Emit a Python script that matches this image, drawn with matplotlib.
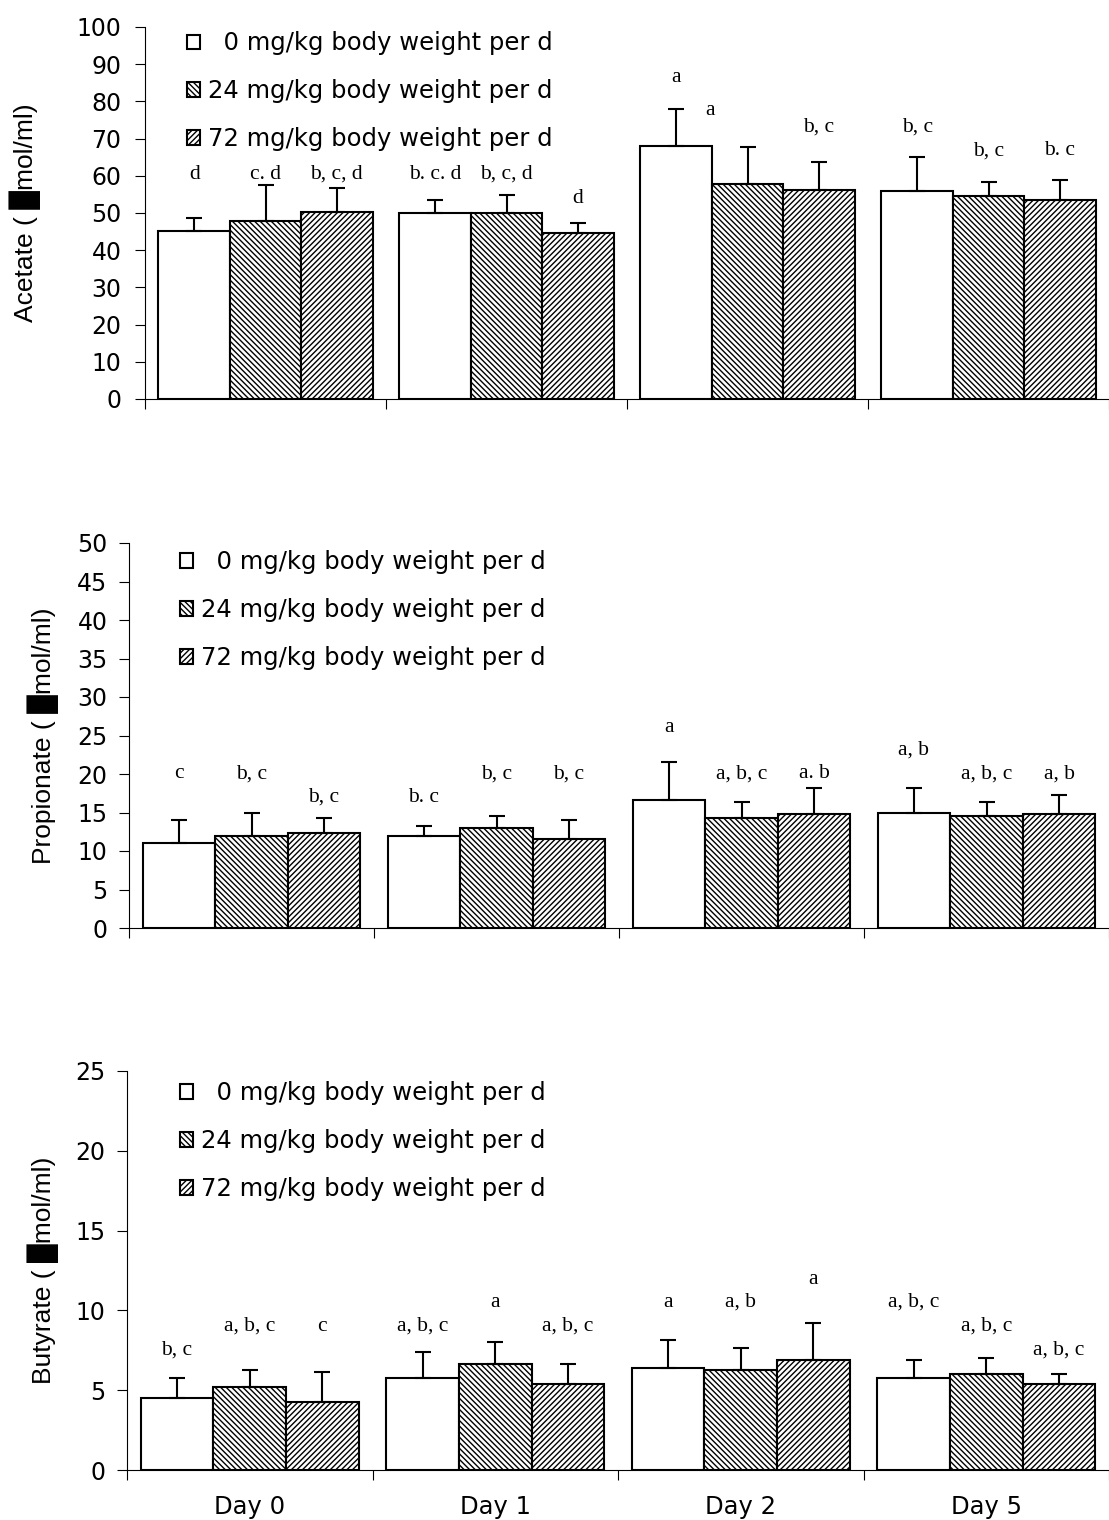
import matplotlib
matplotlib.use("Agg")
import matplotlib.pyplot as plt
import numpy as np

plt.rcParams['font.family'] = ['DejaVu Sans']
plt.rcParams['hatch.linewidth'] = 1.0
plt.rcParams['hatch.color'] = 'black'

days = ["Day 0", "Day 1", "Day 2", "Day 5"]
doses = ["  0 mg/kg body weight per d", "24 mg/kg body weight per d", "72 mg/kg body weight per d"]

# acetate (umol/ml), mean and upper SD per dose group
ace_0 = [45.1, 49.9, 68.1, 55.8]
ace_24 = [47.8, 49.9, 57.9, 54.7]
ace_72 = [50.4, 44.5, 56.3, 53.6]
ace_sd_0 = [3.6, 3.7, 9.8, 9.2]
ace_sd_24 = [9.7, 4.9, 9.8, 3.7]
ace_sd_72 = [6.4, 2.9, 7.4, 5.3]
ace_let_0 = ["d", "b. c. d", "a", "b, c"]
ace_let_24 = ["c. d", "b, c, d", "a", "b, c"]
ace_let_72 = ["b, c, d", "d", "b, c", "b. c"]
ace_lety_0 = [60.4, 60.4, 86.3, 73.1]
ace_lety_24 = [60.4, 60.4, 77.5, 66.7]
ace_lety_72 = [60.4, 53.9, 73.1, 66.7]

# propionate
pro_0 = [11.1, 11.9, 16.6, 15.0]
pro_24 = [11.9, 13.0, 14.3, 14.6]
pro_72 = [12.4, 11.6, 14.8, 14.8]
pro_sd_0 = [2.9, 1.3, 4.9, 3.2]
pro_sd_24 = [3.1, 1.6, 2.0, 1.7]
pro_sd_72 = [1.9, 2.4, 3.4, 2.5]
pro_let_0 = ["c", "b. c", "a", "a, b"]
pro_let_24 = ["b, c", "b, c", "a, b, c", "a, b, c"]
pro_let_72 = ["b, c", "b, c", "a. b", "a, b"]
pro_lety_0 = [20.0, 17.0, 26.1, 23.1]
pro_lety_24 = [20.0, 20.0, 20.0, 20.0]
pro_lety_72 = [17.0, 20.0, 20.0, 20.0]

# butyrate
but_0 = [4.49, 5.74, 6.36, 5.74]
but_24 = [5.22, 6.62, 6.24, 5.99]
but_72 = [4.26, 5.36, 6.87, 5.36]
but_sd_0 = [1.25, 1.63, 1.76, 1.13]
but_sd_24 = [1.04, 1.37, 1.38, 1.00]
but_sd_72 = [1.85, 1.26, 2.37, 0.63]
but_let_0 = ["b, c", "a, b, c", "a", "a, b, c"]
but_let_24 = ["a, b, c", "a", "a, b", "a, b, c"]
but_let_72 = ["c", "a, b, c", "a", "a, b, c"]
but_lety_0 = [7.5, 9.0, 10.5, 10.5]
but_lety_24 = [9.0, 10.5, 10.5, 9.0]
but_lety_72 = [9.0, 9.0, 11.95, 7.5]

hatches = [None, '\\' * 6, '/' * 6]
W = 0.296


def draw_panel(ax, means, sds, letters, lety, ymax, ystep, ylabel, xright, leg_xy, lab_x,
               tpad, shift=None):
    x = np.arange(len(days)) + 0.5
    for j in range(3):
        xs = x + (j - 1) * W
        ax.bar(xs, means[j], W, color='white', edgecolor='black', linewidth=1.5,
               hatch=hatches[j], label=doses[j], zorder=2)
        ax.errorbar(xs, means[j], yerr=[np.zeros(len(days)), sds[j]], fmt='none',
                    ecolor='black', elinewidth=1.5, capsize=6, capthick=1.5, zorder=3)
        for i in range(len(days)):
            dx = 0.0
            if shift is not None and shift[0] == (i, j):
                dx = shift[1]
            ax.text(xs[i] + dx, lety[j][i], letters[j][i], ha='center', va='center',
                    family='Liberation Serif', fontsize=15.5)
    ax.set_xlim(0, xright)
    ax.set_ylim(0, ymax)
    ax.set_yticks(np.arange(0, ymax + 0.1, ystep))
    ax.set_xticks([0, 1, 2, 3, 4])
    ax.set_xticklabels([])
    ax.tick_params(axis='y', labelsize=17, length=7, width=0.8, pad=tpad)
    ax.tick_params(axis='x', length=7, width=0.8)
    ax.spines['top'].set_visible(False)
    ax.spines['right'].set_visible(False)
    ax.spines['left'].set_linewidth(0.8)
    ax.spines['bottom'].set_linewidth(0.8)
    ax.set_ylabel(ylabel, fontsize=19, va='center', family=['Liberation Sans', 'DejaVu Sans'])
    ax.yaxis.set_label_coords(lab_x, 0.5)
    ax.legend(loc='upper left', bbox_to_anchor=leg_xy, frameon=False, fontsize=17.5,
              handlelength=0.55, handleheight=0.55, handletextpad=0.3,
              labelspacing=0.98, borderpad=0, borderaxespad=0)


fig = plt.figure(figsize=(11.09, 15.2), dpi=100)
ax1 = fig.add_axes([145 / 1109, 1 - 399 / 1520, 964 / 1109, 372 / 1520])
ax2 = fig.add_axes([129 / 1109, 1 - 928 / 1520, 980 / 1109, 385 / 1520])
ax3 = fig.add_axes([127 / 1109, 1 - 1470 / 1520, 982 / 1109, 399 / 1520])

draw_panel(ax1, [ace_0, ace_24, ace_72], [ace_sd_0, ace_sd_24, ace_sd_72],
           [ace_let_0, ace_let_24, ace_let_72], [ace_lety_0, ace_lety_24, ace_lety_72],
           100, 10, "Acetate ( \u2588mol/ml)", 964 / 243, (0.0436, 0.988), -0.1245, 10,
           shift=((2, 1), -0.156))
draw_panel(ax2, [pro_0, pro_24, pro_72], [pro_sd_0, pro_sd_24, pro_sd_72],
           [pro_let_0, pro_let_24, pro_let_72], [pro_lety_0, pro_lety_24, pro_lety_72],
           50, 5, "Propionate ( \u2588mol/ml)", 980 / 248.5, (0.052, 0.981), -0.0878, 8.5)
draw_panel(ax3, [but_0, but_24, but_72], [but_sd_0, but_sd_24, but_sd_72],
           [but_let_0, but_let_24, but_let_72], [but_lety_0, but_lety_24, but_lety_72],
           25, 5, "Butyrate ( \u2588mol/ml)", 982 / 248.6, (0.054, 0.974), -0.0855, 8.5)

ax3.set_xticks(np.arange(len(days)) + 0.5, minor=True)
ax3.set_xticklabels(days, minor=True, fontsize=17.5)
ax3.tick_params(axis='x', which='minor', length=0, pad=18)

fig.savefig("out.png", dpi=100)
